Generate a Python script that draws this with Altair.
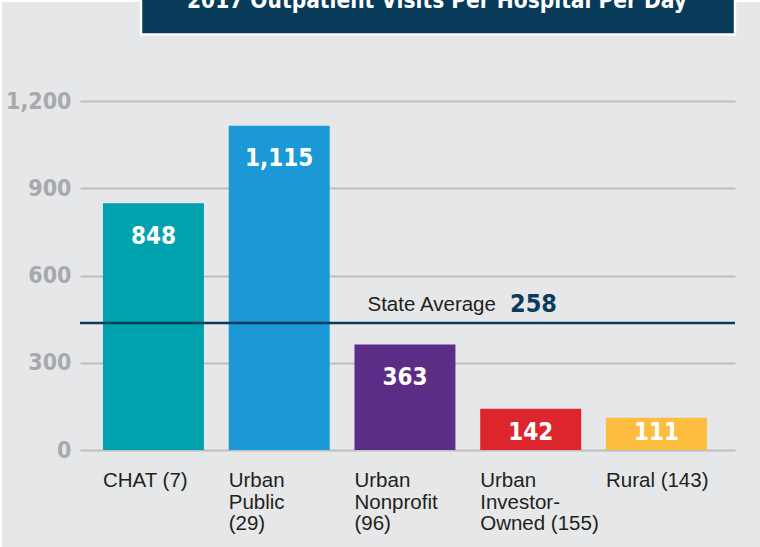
import altair as alt
import pandas as pd

# ---- data ----
categories = ["CHAT (7)", "Urban Public (29)", "Urban Nonprofit (96)",
              "Urban Investor-Owned (155)", "Rural (143)"]
axis_labels = ["CHAT (7)", "Urban|Public|(29)", "Urban|Nonprofit|(96)",
               "Urban|Investor-|Owned (155)", "Rural (143)"]
values = [848, 1115, 363, 142, 111]
bar_colors = ["#00a3ad", "#1b99d6", "#5c2d86", "#dd252d", "#fdbd3e"]
y_ticks = [0, 300, 600, 900, 1200]
state_avg_text = ["State Average"]
state_avg_value = ["258"]
state_avg_line = [437]          # where the line is drawn in the reference
title_text = ["2017 Outpatient Visits Per Hospital Per Day"]

W, H = 655, 349
NARROW = "'Liberation Sans Narrow', 'DejaVu Sans Condensed', sans-serif"
SANS = "Liberation Sans"

df = pd.DataFrame({"cat": categories, "label": axis_labels,
                   "value": values, "color": bar_colors})

y_scale = alt.Scale(domain=[0, 1200], nice=False, zero=True)
x_scale = alt.Scale(paddingInner=0.197, paddingOuter=0.203, align=0.45)


def xenc(**kw):
    return alt.X("cat:N", sort=categories, scale=x_scale, axis=None, **kw)


bars = alt.Chart(df).mark_bar().encode(
    x=xenc(),
    y=alt.Y("value:Q", scale=y_scale,
            axis=alt.Axis(values=y_ticks, format=",.0f", grid=True, gridColor="#bcbdbf",
                          gridWidth=2, domain=False, ticks=False, labelFont=NARROW,
                          labelFontWeight="bold", labelFontSize=23, labelColor="#a7a9ac",
                          labelPadding=9, title=None)),
    color=alt.Color("color:N", scale=None),
)

bar_labels = alt.Chart(df).transform_calculate(
    label_y="max(datum.value - 115, 60)"
).mark_text(baseline="middle", font=NARROW, fontWeight="bold", fontSize=24,
            color="white").encode(
    x=xenc(),
    y=alt.Y("label_y:Q", scale=y_scale),
    text=alt.Text("value:Q", format=",.0f"),
)

cat_labels = alt.Chart(df).mark_text(
    align="left", baseline="alphabetic", lineBreak="|", lineHeight=21.5,
    font=SANS, fontSize=20.5, color="#231f20"
).encode(
    x=xenc(bandPosition=0),
    y=alt.value(386),
    text="label:N",
)

avg_df = pd.DataFrame({"v": state_avg_line, "t": state_avg_text, "n": state_avg_value})
avg_rule = alt.Chart(avg_df).mark_rule(color="#0b3c5d", strokeWidth=2.5).encode(
    y=alt.Y("v:Q", scale=y_scale)
)
avg_text = alt.Chart(avg_df).mark_text(
    align="left", baseline="alphabetic", dy=-12, font=SANS, fontSize=20.5, color="#231f20"
).encode(x=alt.value(287.5), y=alt.Y("v:Q", scale=y_scale), text="t:N")
avg_num = alt.Chart(avg_df).mark_text(
    align="left", baseline="alphabetic", dy=-11, font=NARROW, fontWeight="bold",
    fontSize=25, color="#0b3c5d"
).encode(x=alt.value(430), y=alt.Y("v:Q", scale=y_scale), text="n:N")

title_df = pd.DataFrame({"t": title_text})
title_box = alt.Chart(title_df).mark_rect(
    fill="#083a5a", stroke="white", strokeWidth=2.5
).encode(x=alt.value(61), x2=alt.value(655), y=alt.value(-130), y2=alt.value(-66.5))
title_label = alt.Chart(title_df).mark_text(
    align="center", baseline="alphabetic", font=NARROW, fontWeight="bold",
    fontSize=22.5, color="white"
).encode(x=alt.value(357), y=alt.value(-93), text="t:N")

edge_left = alt.Chart(title_df).mark_rect(fill="white").encode(
    x=alt.value(-80), x2=alt.value(-78), y=alt.value(-101), y2=alt.value(H + 97)
)
edge_top = alt.Chart(title_df).mark_rect(fill="white").encode(
    x=alt.value(-80), x2=alt.value(W + 25), y=alt.value(-101), y2=alt.value(-99)
)

chart = alt.layer(
    bars, bar_labels, cat_labels, avg_rule, avg_text, avg_num,
    edge_left, edge_top, title_box, title_label
).properties(
    width=W, height=H,
    autosize=alt.AutoSizeParams(type="none"),
    padding={"left": 80, "top": 101, "right": 25, "bottom": 97},
    background="#e6e7e8",
).configure_view(stroke=None, fill=None)

chart.save("out.html", embed_options={"renderer": "svg", "actions": False})
